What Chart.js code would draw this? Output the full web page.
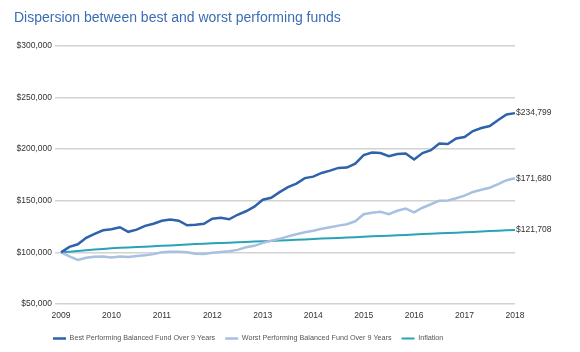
<!DOCTYPE html>
<html>
<head>
<meta charset="utf-8">
<script src="https://cdn.jsdelivr.net/npm/chart.js@4.4.1/dist/chart.umd.min.js"></script>
<style>
  html, body { margin: 0; padding: 0; background: #fff; }
</style>
</head>
<body>
<canvas id="chart" width="580" height="352"></canvas>
<script>
// year ticks, data read every two months from Jan 2009 to Jan 2018
const years = [2009, 2010, 2011, 2012, 2013, 2014, 2015, 2016, 2017, 2018];
const periodsPerYear = 6;

const best = [
  100000, 105300, 107800, 114100, 118000, 121400,
  122300, 124300, 119900, 122000, 125700, 127700,
  130600, 131800, 130600, 126200, 126700, 127700,
  132500, 133500, 132000, 136400, 139800, 144200,
  151000, 152900, 158300, 163100, 166600, 171900,
  173300, 176900, 179100, 181800, 182100, 185900,
  194200, 196600, 196100, 193200, 195200, 195800,
  190000, 196100, 199000, 205400, 204900, 210200,
  211700, 217500, 220400, 222300, 228200, 233500,
  234799
];

const worst = [
  100000, 96100, 92700, 94700, 95800, 96100,
  95100, 96100, 95400, 96400, 97300, 98300,
  100000, 100500, 100500, 100000, 98700, 98500,
  99700, 100300, 101000, 102400, 104900, 106300,
  109200, 111200, 113100, 115500, 117500, 119400,
  120900, 122800, 124300, 125900, 127200, 130100,
  136900, 138400, 139300, 136900, 140300, 142400,
  138800, 143200, 146600, 150000, 150200, 152400,
  154900, 158500, 160700, 162600, 166000, 169900,
  171680
];

const inflation = [
  100000, 100700, 101300, 102000, 102700, 103300,
  104000, 104400, 104800, 105200, 105500, 105900,
  106300, 106700, 107100, 107600, 108000, 108400,
  108800, 109100, 109400, 109800, 110100, 110400,
  110700, 111100, 111400, 111800, 112200, 112500,
  112900, 113300, 113600, 114000, 114400, 114700,
  115100, 115500, 115800, 116200, 116600, 116900,
  117300, 117700, 118000, 118400, 118800, 119100,
  119500, 119800, 120200, 120600, 120900, 121300,
  121708
];

const seriesNames = [
  "Best Performing Balanced Fund Over 9 Years",
  "Worst Performing Balanced Fund Over 9 Years",
  "Inflation"
];

// one label per period, only the first period of a year gets the year text
const labels = [];
years.forEach((y, i) => {
  if (i === years.length - 1) {
    labels.push(String(y));
    return;
  }
  for (let p = 0; p < periodsPerYear; p++) {
    labels.push(p === 0 ? String(y) : "");
  }
});

const fmt = (v) => "$" + v.toLocaleString("en-US");

// value labels next to the last point of each line
const endLabels = {
  id: "endLabels",
  afterDatasetsDraw(chart) {
    const ctx = chart.ctx;
    ctx.save();
    ctx.font = "8.5px 'Liberation Sans', Arial, sans-serif";
    ctx.fillStyle = "#333";
    ctx.textBaseline = "middle";
    ctx.textAlign = "left";
    chart.data.datasets.forEach((ds, i) => {
      const meta = chart.getDatasetMeta(i);
      const pt = meta.data[meta.data.length - 1];
      ctx.fillText(fmt(ds.data[ds.data.length - 1]), pt.x + 1, pt.y);
    });
    ctx.restore();
  },
};

// legend sits a bit right of the canvas edge
const legendShift = {
  id: "legendShift",
  afterLayout(chart) {
    chart.legend.left += 29;
  },
};

const font = "'Liberation Sans', Arial, sans-serif";

new Chart(document.getElementById("chart"), {
  type: "line",
  data: {
    labels: labels,
    datasets: [
      {
        label: seriesNames[0],
        data: best,
        borderColor: "#2e62aa",
        backgroundColor: "#2e62aa",
        borderWidth: 2.5,
      },
      {
        label: seriesNames[1],
        data: worst,
        borderColor: "#a8c0e1",
        backgroundColor: "#a8c0e1",
        borderWidth: 2.5,
      },
      {
        label: seriesNames[2],
        data: inflation,
        borderColor: "#2aa3b6",
        backgroundColor: "#2aa3b6",
        borderWidth: 2,
      },
    ],
  },
  options: {
    responsive: false,
    animation: false,
    devicePixelRatio: 1,
    elements: { point: { radius: 0 }, line: { tension: 0 } },
    layout: { padding: { left: 14, right: 65, top: 0, bottom: 0 } },
    scales: {
      x: {
        offset: false,
        grid: { display: false, drawTicks: false },
        border: { display: false },
        ticks: {
          autoSkip: false,
          maxRotation: 0,
          padding: 7,
          color: "#333",
          font: { family: font, size: 8.5 },
          callback: function (value) {
            return this.getLabelForValue(value);
          },
        },
        afterFit(scale) {
          scale.height -= 3.4;
        },
      },
      y: {
        min: 50000,
        max: 300000,
        grid: { color: "#d2d2d2", lineWidth: 1.5, tickLength: 6 },
        border: { display: false },
        ticks: {
          stepSize: 50000,
          padding: 3,
          color: "#333",
          font: { family: font, size: 8.5 },
          callback: (v) => fmt(v),
        },
        afterFit(scale) {
          scale.width = 47;
        },
      },
    },
    plugins: {
      title: {
        display: true,
        text: "Dispersion between best and worst performing funds",
        align: "start",
        color: "#3b6db5",
        font: { family: font, size: 14, weight: "normal" },
        padding: { top: 10, bottom: 19 },
      },
      legend: {
        position: "bottom",
        align: "start",
        labels: {
          usePointStyle: true,
          pointStyle: "line",
          pointStyleWidth: 13,
          boxHeight: 7,
          padding: 10,
          color: "#555",
          font: { family: font, size: 7.2 },
        },
      },
      tooltip: { enabled: false },
    },
  },
  plugins: [endLabels, legendShift],
});
</script>
</body>
</html>
